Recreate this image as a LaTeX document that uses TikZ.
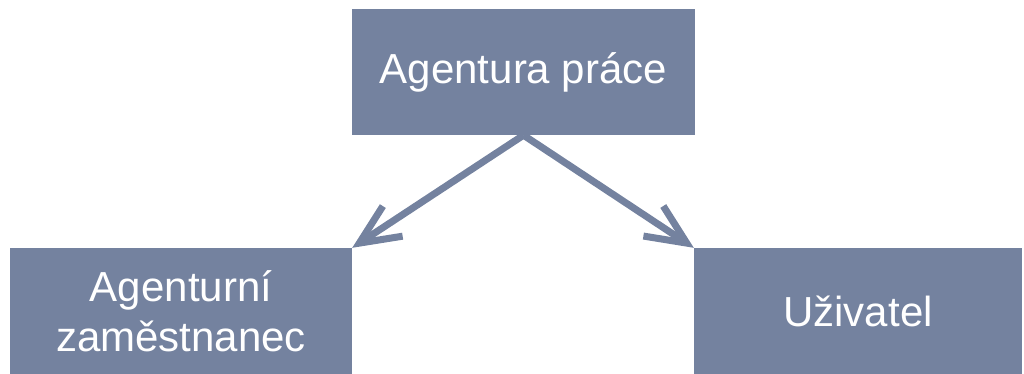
\documentclass[tikz,border=0pt]{standalone}
\usepackage{fontspec}
\setmainfont{Liberation Sans}
\usepackage{tikz}
\usetikzlibrary{arrows.meta}

\definecolor{slate}{RGB}{116,130,159}

\begin{document}
\begin{tikzpicture}[
    x=1pt, y=-1pt,
    party/.style={rectangle, fill=slate, text=white, inner sep=0pt, align=center,
        font=\fontsize{42}{50}\selectfont},
    link/.style={-{Straight Barb[length=40pt, width=36pt]}, line width=7pt, slate}
]
    \useasboundingbox (0,0) rectangle (1024,374);

    \node[party, minimum width=343pt, minimum height=126pt] (agency) at (523.5,72) {Agentura práce};
    \node[party, minimum width=342pt, minimum height=126pt] (worker) at (181,311) {Agenturní\\zaměstnanec};
    \node[party, minimum width=328pt, minimum height=126pt] (user) at (858,311) {Uživatel};

    \draw[link] (agency.south) -- (worker.north east);
    \draw[link] (agency.south) -- (user.north west);
\end{tikzpicture}
\end{document}
